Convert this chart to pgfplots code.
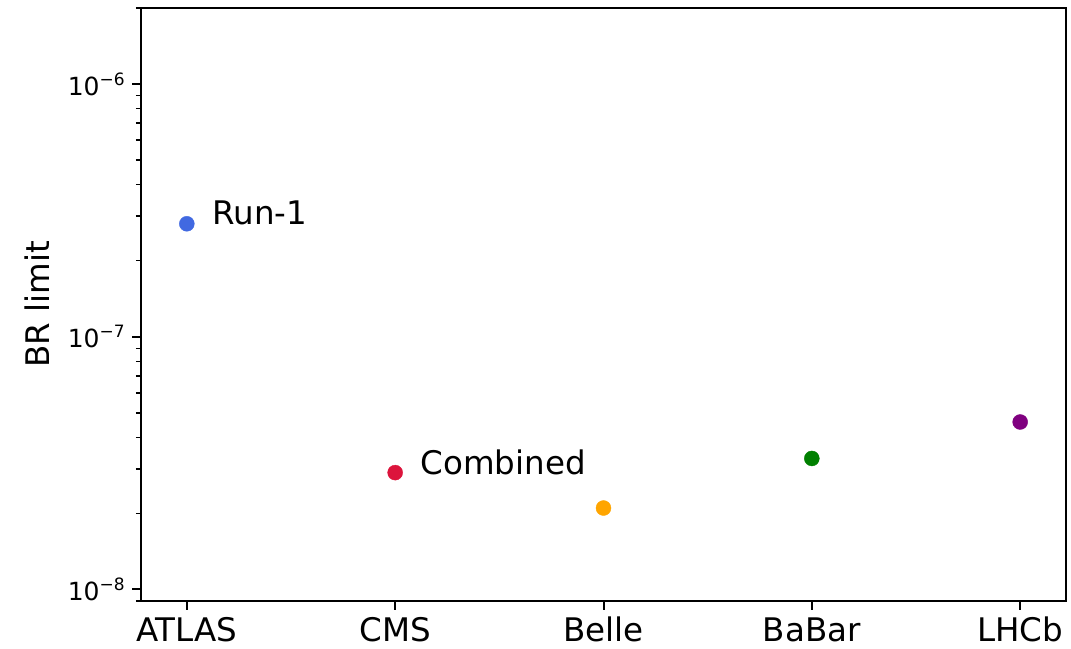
\documentclass[border=0pt]{standalone}
\usepackage{pgfplots}
\pgfplotsset{compat=1.18}
\usepackage{fontspec}
\setmainfont{DejaVu Sans}

\definecolor{royalblue}{RGB}{65,105,225}
\definecolor{crimson}{RGB}{220,20,60}
\definecolor{mplorange}{RGB}{255,165,0}
\definecolor{mplgreen}{RGB}{0,128,0}
\definecolor{mplpurple}{RGB}{128,0,128}

\newcommand{\labfont}{\fontsize{32.5}{39}\selectfont}
\newcommand{\tickfont}{\fontsize{25}{30}\selectfont}
\newcommand{\pow}[1]{10\raisebox{0.40em}{\fontsize{17}{20}\selectfont −#1}}

\begin{document}
\begin{tikzpicture}
\begin{axis}[
  scale only axis,
  width=925pt, height=593pt,
  ymode=log,
  xmin=-0.22, xmax=4.22,
  ymin=9e-9, ymax=2e-6,
  xtick={0,1,2,3,4},
  xticklabels={ATLAS,CMS,Belle,BaBar,LHCb},
  ytick={1e-8,1e-7,1e-6},
  yticklabels={\pow{8},\pow{7},\pow{6}},
  minor ytick={9e-9,2e-8,3e-8,4e-8,5e-8,6e-8,7e-8,8e-8,9e-8,
               2e-7,3e-7,4e-7,5e-7,6e-7,7e-7,8e-7,9e-7,2e-6},
  tick pos=left,
  tick align=outside,
  major tick length=8.75pt,
  minor tick length=5pt,
  every tick/.style={black, line width=2pt},
  every minor tick/.append style={line width=1.5pt},
  axis line style={line width=2pt},
  xticklabel style={font=\labfont, yshift=-4pt},
  yticklabel style={font=\tickfont, xshift=-4pt},
  ylabel={BR limit},
  ylabel style={font=\labfont, at={(rel axis cs:-0.0984,0.5)}, anchor=base},
  clip=false,
]
  \addplot[only marks, mark=*, mark size=7.5pt, color=royalblue] coordinates {(0,2.8e-7)};
  \addplot[only marks, mark=*, mark size=7.5pt, color=crimson] coordinates {(1,2.9e-8)};
  \addplot[only marks, mark=*, mark size=7.5pt, color=mplorange] coordinates {(2,2.1e-8)};
  \addplot[only marks, mark=*, mark size=7.5pt, color=mplgreen] coordinates {(3,3.3e-8)};
  \addplot[only marks, mark=*, mark size=7.5pt, color=mplpurple] coordinates {(4,4.6e-8)};

  \node[anchor=base west, font=\labfont, xshift=22pt, yshift=-1pt] at (axis cs:0,2.8e-7) {Run-1};
  \node[anchor=base west, font=\labfont, xshift=22pt, yshift=-2pt] at (axis cs:1,2.9e-8) {Combined};

  \coordinate (sw) at (rel axis cs:0,0);
  \coordinate (ne) at (rel axis cs:1,1);
\end{axis}
\path (sw) ++(-141pt,-47pt);
\path (ne) ++(5pt,8pt);
\end{tikzpicture}
\end{document}
